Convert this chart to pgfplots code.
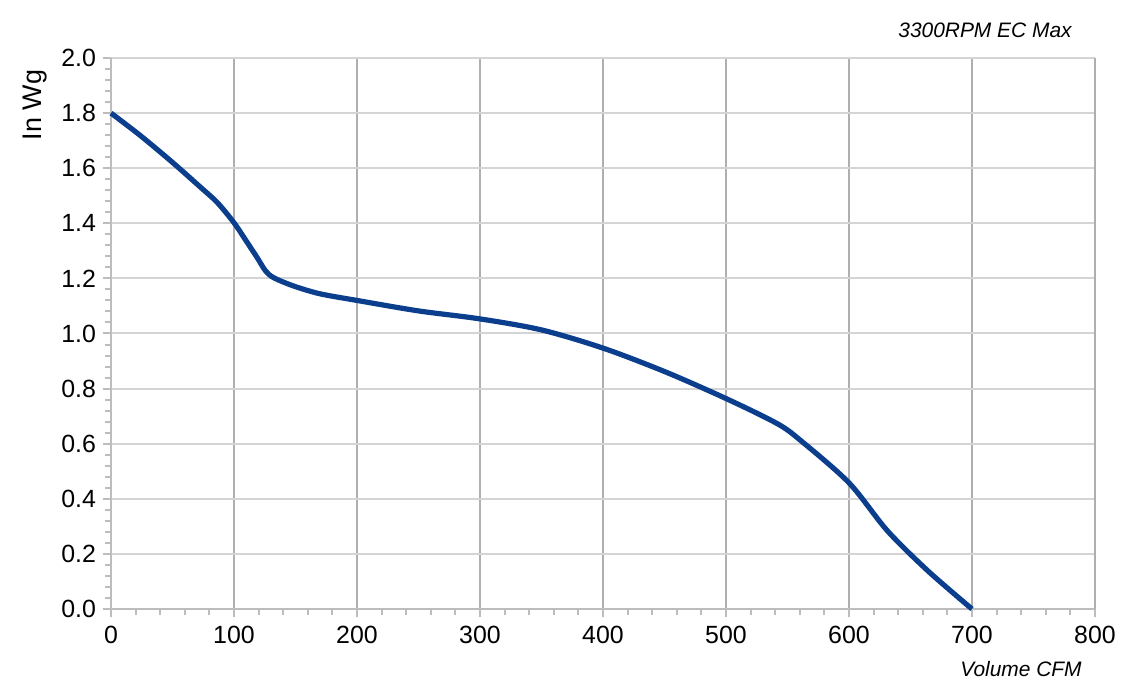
\documentclass[border=0pt]{standalone}
\usepackage{fontspec}
\setmainfont{Liberation Sans}
\usepackage{pgfplots}
\pgfplotsset{compat=1.18}
\definecolor{curve}{HTML}{0B3E8C}
\definecolor{vgrid}{HTML}{AFAFAF}
\definecolor{hgrid}{HTML}{D4D4D4}
\definecolor{axline}{HTML}{BDBDBD}
\begin{document}
\begin{tikzpicture}
\useasboundingbox (-55.5bp,-41bp) rectangle (508bp,304.5bp);
\begin{axis}[
  scale only axis,
  width=492bp, height=275.5bp,
  xmin=0, xmax=800, ymin=0, ymax=2,
  xtick={0,100,...,800},
  ytick={0,0.2,...,2.0},
  minor x tick num=4,
  minor y tick num=4,
  y tick label style={/pgf/number format/fixed, /pgf/number format/fixed zerofill, /pgf/number format/precision=1, xshift=0bp},
  /pgf/number format/assume math mode=true,
  ticklabel style={font=\fontsize{12.5}{14}\selectfont, text=black},
  x tick label style={yshift=-1bp},
  tick align=outside,
  major tick length=4bp,
  minor tick length=3bp,
  tick style={color=axline, line width=1bp},
  minor tick style={color=axline, line width=1bp},
  xtick pos=bottom, ytick pos=left,
  axis line style={color=axline, line width=1bp},
  axis x line*=bottom, axis y line*=left,
  grid=major,
  x grid style={color=vgrid, line width=1.4bp},
  y grid style={color=hgrid, line width=1bp},
  clip=false,
]
\addplot[color=curve, line width=2.6bp, smooth, tension=0.5] coordinates {
(0,1.80) (24,1.718) (50,1.621) (73,1.53) (86.5,1.475) (100,1.402) (110.8,1.33) (118.9,1.275)
(125.7,1.227) (132.5,1.202) (148.7,1.172) (170,1.144)
(200,1.12) (250,1.082) (300,1.053) (350,1.013) (400,0.947)
(450,0.862) (500,0.764) (541.6,0.673) (560.6,0.612)
(600,0.458) (631,0.285) (664,0.139) (700,0.0)
};
\addplot[line width=1.4bp, draw=vgrid] coordinates {(800,0) (800,2)};
\end{axis}
\node[rotate=90, font=\fontsize{13.5}{15}\selectfont] at (-38bp,252bp) {In Wg};
\node[font=\fontsize{10.5}{12}\selectfont\itshape] at (437bp,289.5bp) {3300RPM EC Max};
\node[font=\fontsize{10.5}{12}\selectfont\itshape] at (455bp,-30bp) {Volume CFM};
\end{tikzpicture}
\end{document}
